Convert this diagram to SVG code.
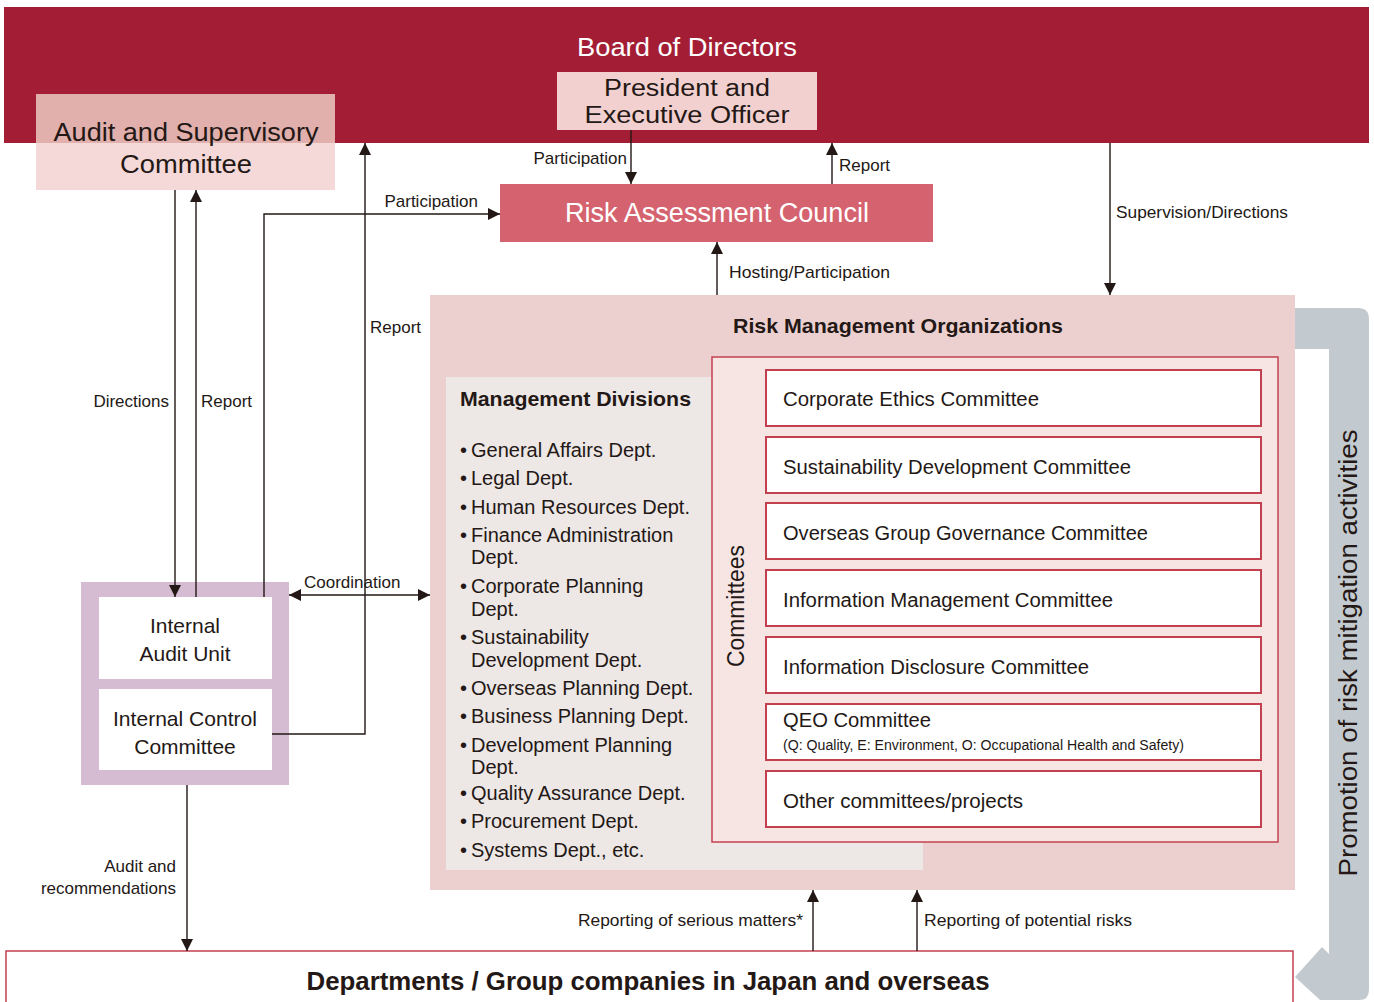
<svg xmlns="http://www.w3.org/2000/svg" width="1374" height="1002" viewBox="0 0 1374 1002">
<defs>
<marker id="ah" viewBox="0 0 10 10" refX="10" refY="5" markerWidth="12" markerHeight="12" markerUnits="userSpaceOnUse" orient="auto-start-reverse">
<path d="M0,0 L10,5 L0,10 z" fill="#231815"/>
</marker>
<style>
text{font-family:"Liberation Sans",Arial,sans-serif;fill:#231815}
.lbl{font-size:17px}
.cm{font-size:20px}
.md{font-size:20px}
.ln{stroke:#231815;stroke-width:1.4;fill:none}
.cbox{fill:#fff;stroke:#c3404f;stroke-width:2}
</style>
</defs>
<rect width="1374" height="1002" fill="#fff"/>

<g id="gray-arrow">
<path d="M1295,308 L1358,308 Q1369,308 1369,319 L1369,990 Q1369,1000 1359,1000 L1320,1000 L1295,977 L1322,947 L1329,954 L1329,349 L1295,349 Z" fill="#c3cacf"/>
<text x="1357" y="653" transform="rotate(-90 1357 653)" text-anchor="middle" font-size="26" textLength="447" lengthAdjust="spacingAndGlyphs">Promotion of risk mitigation activities</text>
</g>

<g id="board">
<rect x="4" y="7" width="1365" height="136" fill="#a31e35"/>
<text x="687" y="56" text-anchor="middle" font-size="26" textLength="220" lengthAdjust="spacingAndGlyphs" style="fill:#fff">Board of Directors</text>
</g>

<g id="president">
<rect x="557" y="72" width="260" height="58" fill="#f2d0cf"/>
<text x="687" y="96" text-anchor="middle" font-size="23" textLength="166" lengthAdjust="spacingAndGlyphs">President and</text>
<text x="687" y="123" text-anchor="middle" font-size="23" textLength="205" lengthAdjust="spacingAndGlyphs">Executive Officer</text>
</g>

<g id="audit-supervisory">
<rect x="36" y="94" width="299" height="49" fill="#e1afac"/>
<rect x="36" y="143" width="299" height="47" fill="#f4d9d8"/>
<text x="186" y="141" text-anchor="middle" font-size="26" textLength="265" lengthAdjust="spacingAndGlyphs">Audit and Supervisory</text>
<text x="186" y="173" text-anchor="middle" font-size="26" textLength="132" lengthAdjust="spacingAndGlyphs">Committee</text>
</g>

<g id="risk-council">
<rect x="500" y="184" width="433" height="58" fill="#d5636f"/>
<text x="717" y="222" text-anchor="middle" font-size="27" textLength="304" lengthAdjust="spacingAndGlyphs" style="fill:#fff">Risk Assessment Council</text>
</g>

<g id="risk-mgmt-orgs">
<rect x="430" y="295" width="865" height="595" fill="#ecd0cf"/>
<text x="898" y="333" text-anchor="middle" font-size="21" font-weight="bold" textLength="330" lengthAdjust="spacingAndGlyphs">Risk Management Organizations</text>
</g>

<g id="management-divisions">
<rect x="446" y="377" width="477" height="493" fill="#ede7e5"/>
<text x="460" y="406" font-size="21" font-weight="bold" textLength="231" lengthAdjust="spacingAndGlyphs">Management Divisions</text>
<g class="md">
<text x="460" y="457">•</text><text x="471" y="457">General Affairs Dept.</text>
<text x="460" y="485">•</text><text x="471" y="485">Legal Dept.</text>
<text x="460" y="514">•</text><text x="471" y="514">Human Resources Dept.</text>
<text x="460" y="542">•</text><text x="471" y="542">Finance Administration</text>
<text x="471" y="564">Dept.</text>
<text x="460" y="593">•</text><text x="471" y="593">Corporate Planning</text>
<text x="471" y="616">Dept.</text>
<text x="460" y="644">•</text><text x="471" y="644">Sustainability</text>
<text x="471" y="667">Development Dept.</text>
<text x="460" y="695">•</text><text x="471" y="695">Overseas Planning Dept.</text>
<text x="460" y="723">•</text><text x="471" y="723">Business Planning Dept.</text>
<text x="460" y="752">•</text><text x="471" y="752">Development Planning</text>
<text x="471" y="774">Dept.</text>
<text x="460" y="800">•</text><text x="471" y="800">Quality Assurance Dept.</text>
<text x="460" y="828">•</text><text x="471" y="828">Procurement Dept.</text>
<text x="460" y="857">•</text><text x="471" y="857">Systems Dept., etc.</text>
</g>
</g>

<g id="committees">
<rect x="712" y="357" width="566" height="485" fill="#f7e5e4" stroke="#c3404f" stroke-width="1.5"/>
<text x="744" y="606" transform="rotate(-90 744 606)" text-anchor="middle" font-size="23" textLength="122" lengthAdjust="spacingAndGlyphs">Committees</text>
</g>

<g id="c-ethics"><rect class="cbox" x="766" y="370" width="495" height="56"/><text class="cm" x="783" y="406" textLength="256" lengthAdjust="spacingAndGlyphs">Corporate Ethics Committee</text></g>
<g id="c-sustain"><rect class="cbox" x="766" y="437" width="495" height="56"/><text class="cm" x="783" y="474" textLength="348" lengthAdjust="spacingAndGlyphs">Sustainability Development Committee</text></g>
<g id="c-overseas"><rect class="cbox" x="766" y="503" width="495" height="56"/><text class="cm" x="783" y="540" textLength="365" lengthAdjust="spacingAndGlyphs">Overseas Group Governance Committee</text></g>
<g id="c-info-mgmt"><rect class="cbox" x="766" y="570" width="495" height="56"/><text class="cm" x="783" y="607" textLength="330" lengthAdjust="spacingAndGlyphs">Information Management Committee</text></g>
<g id="c-disclosure"><rect class="cbox" x="766" y="637" width="495" height="56"/><text class="cm" x="783" y="674" textLength="306" lengthAdjust="spacingAndGlyphs">Information Disclosure Committee</text></g>
<g id="c-qeo"><rect class="cbox" x="766" y="704" width="495" height="56"/><text class="cm" x="783" y="727" textLength="148" lengthAdjust="spacingAndGlyphs">QEO Committee</text><text x="783" y="750" font-size="14" textLength="401" lengthAdjust="spacingAndGlyphs">(Q: Quality, E: Environment, O: Occupational Health and Safety)</text></g>
<g id="c-other"><rect class="cbox" x="766" y="771" width="495" height="56"/><text class="cm" x="783" y="808" textLength="240" lengthAdjust="spacingAndGlyphs">Other committees/projects</text></g>

<g id="internal">
<rect x="81" y="582" width="208" height="203" fill="#d5bcd3"/>
<rect x="99" y="597" width="173" height="82" fill="#fff"/>
<rect x="99" y="689" width="173" height="81" fill="#fff"/>
<text x="185" y="633" text-anchor="middle" font-size="21">Internal</text>
<text x="185" y="661" text-anchor="middle" font-size="21">Audit Unit</text>
<text x="185" y="726" text-anchor="middle" font-size="21" textLength="144" lengthAdjust="spacingAndGlyphs">Internal Control</text>
<text x="185" y="754" text-anchor="middle" font-size="21">Committee</text>
</g>

<g id="departments">
<rect x="6" y="951" width="1287" height="60" fill="#fff" stroke="#c3404f" stroke-width="1.5"/>
<text x="648" y="990" text-anchor="middle" font-size="25" font-weight="bold" textLength="683" lengthAdjust="spacingAndGlyphs">Departments / Group companies in Japan and overseas</text>
</g>

<g id="connectors">
<line class="ln" x1="631" y1="130" x2="631" y2="184" marker-end="url(#ah)"/>
<line class="ln" x1="832" y1="184" x2="832" y2="143" marker-end="url(#ah)"/>
<line class="ln" x1="1110" y1="143" x2="1110" y2="295" marker-end="url(#ah)"/>
<line class="ln" x1="717" y1="295" x2="717" y2="242" marker-end="url(#ah)"/>
<line class="ln" x1="175" y1="190" x2="175" y2="597" marker-end="url(#ah)"/>
<line class="ln" x1="196" y1="597" x2="196" y2="190" marker-end="url(#ah)"/>
<polyline class="ln" points="264,597 264,214 500,214" marker-end="url(#ah)"/>
<polyline class="ln" points="272,734 365,734 365,143" marker-end="url(#ah)"/>
<line class="ln" x1="289" y1="595" x2="430" y2="595" marker-start="url(#ah)" marker-end="url(#ah)"/>
<line class="ln" x1="187" y1="785" x2="187" y2="951" marker-end="url(#ah)"/>
<line class="ln" x1="813" y1="951" x2="813" y2="890" marker-end="url(#ah)"/>
<line class="ln" x1="917" y1="951" x2="917" y2="890" marker-end="url(#ah)"/>
</g>

<g id="labels">
<text class="lbl" x="627" y="164" text-anchor="end">Participation</text>
<text class="lbl" x="839" y="171">Report</text>
<text class="lbl" x="1116" y="218" textLength="172" lengthAdjust="spacingAndGlyphs">Supervision/Directions</text>
<text class="lbl" x="729" y="278" textLength="161" lengthAdjust="spacingAndGlyphs">Hosting/Participation</text>
<text class="lbl" x="478" y="207" text-anchor="end">Participation</text>
<text class="lbl" x="169" y="407" text-anchor="end">Directions</text>
<text class="lbl" x="201" y="407">Report</text>
<text class="lbl" x="370" y="333">Report</text>
<text class="lbl" x="304" y="588">Coordination</text>
<text class="lbl" x="176" y="872" text-anchor="end">Audit and</text>
<text class="lbl" x="176" y="894" text-anchor="end">recommendations</text>
<text class="lbl" x="803" y="926" text-anchor="end" textLength="225" lengthAdjust="spacingAndGlyphs">Reporting of serious matters*</text>
<text class="lbl" x="924" y="926" textLength="208" lengthAdjust="spacingAndGlyphs">Reporting of potential risks</text>
</g>
</svg>
